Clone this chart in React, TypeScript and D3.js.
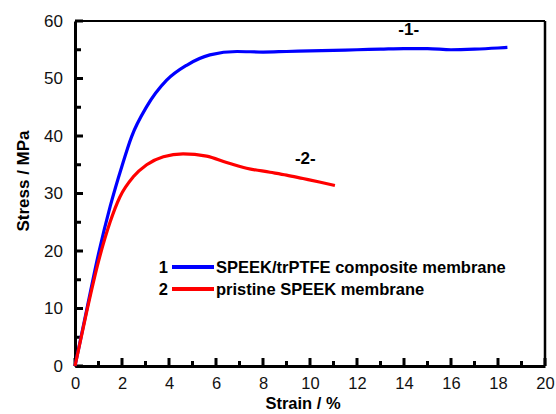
import { useEffect, useRef } from "react";
import * as d3 from "d3";

// curve 1: SPEEK/trPTFE composite membrane
const strain1 = [0, 0.5, 1.0, 1.5, 2.0, 2.41, 3.05, 3.9, 4.75, 5.74, 6.9, 8.0, 9.0, 10.0, 11.0, 12.0, 13.0, 14.0, 15.0, 16.0, 17.0, 18.0, 18.4];
const stress1 = [0, 9.8, 19.5, 27.8, 34.8, 39.9, 45.1, 49.7, 52.3, 54.1, 54.7, 54.6, 54.7, 54.8, 54.9, 55.0, 55.1, 55.2, 55.2, 55.0, 55.1, 55.3, 55.4];

// curve 2: pristine SPEEK membrane
const strain2 = [0, 0.5, 1.0, 1.49, 1.91, 2.48, 3.05, 3.76, 4.6, 5.6, 6.45, 7.3, 8.3, 9.0, 9.7, 10.4, 11.06];
const stress2 = [0, 9.5, 18.2, 25.0, 29.4, 32.9, 35.0, 36.4, 36.9, 36.5, 35.4, 34.4, 33.7, 33.2, 32.6, 32.0, 31.4];

const xTicks = [0, 2, 4, 6, 8, 10, 12, 14, 16, 18, 20];
const yTicks = [0, 10, 20, 30, 40, 50, 60];
const legendNames = ["SPEEK/trPTFE composite membrane", "pristine SPEEK membrane"];
const curveTags = ["-1-", "-2-"];

function renderChart(element: SVGSVGElement) {
  const svg = d3.select(element);
  svg.selectAll("*").remove();

  const left = 75, right = 545, top = 21, bottom = 366;
  const x = d3.scaleLinear().domain([0, 20]).range([left, right]);
  const y = d3.scaleLinear().domain([0, 60]).range([bottom, top]);
  const font = "Arial, 'Liberation Sans', sans-serif";

  // frame
  svg.append("line").attr("x1", left).attr("x2", right).attr("y1", top).attr("y2", top)
    .attr("stroke", "#000").attr("stroke-width", 2);
  svg.append("line").attr("x1", right).attr("x2", right).attr("y1", top).attr("y2", bottom)
    .attr("stroke", "#000").attr("stroke-width", 2.5);

  // axes (line + labels)
  const xAxis = svg.append("g").attr("transform", `translate(0,${bottom})`);
  xAxis.call(d3.axisBottom(x).tickValues(xTicks).tickSize(0).tickPadding(11).tickFormat(d3.format("d")));
  xAxis.select(".domain").attr("stroke", "#000").attr("stroke-width", 3);
  xAxis.selectAll("text").attr("font-size", 16.5).attr("font-family", font).attr("fill", "#111");

  const yAxis = svg.append("g").attr("transform", `translate(${left},0)`);
  yAxis.call(d3.axisLeft(y).tickValues(yTicks).tickSize(0).tickPadding(12).tickFormat(d3.format("d")));
  yAxis.select(".domain").attr("stroke", "#000").attr("stroke-width", 3);
  yAxis.selectAll("text").attr("font-size", 17).attr("font-family", font).attr("fill", "#111");

  // inward ticks, drawn from the scales
  const xMinor = d3.range(1, 20, 2);
  const yMinor = d3.range(5, 60, 10);
  svg.append("g").attr("class", "xticks").selectAll("line")
    .data([...xTicks.map((v) => [v, 8]), ...xMinor.map((v) => [v, 5])])
    .join("line")
    .attr("x1", (d) => x(d[0])).attr("x2", (d) => x(d[0]))
    .attr("y1", bottom).attr("y2", (d) => bottom - d[1])
    .attr("stroke", "#000").attr("stroke-width", 3);
  svg.append("g").attr("class", "yticks").selectAll("line")
    .data([...yTicks.map((v) => [v, 8]), ...yMinor.map((v) => [v, 6])])
    .join("line")
    .attr("y1", (d) => y(d[0])).attr("y2", (d) => y(d[0]))
    .attr("x1", left).attr("x2", (d) => left + d[1])
    .attr("stroke", "#000").attr("stroke-width", 3);

  // axis titles
  svg.append("text").attr("x", 303).attr("y", 409).attr("text-anchor", "middle")
    .attr("font-family", font).attr("font-weight", "bold").attr("font-size", 16.5).text("Strain / %");
  svg.append("text").attr("transform", `translate(29,181) rotate(-90)`)
    .attr("text-anchor", "middle").attr("font-family", font).attr("font-weight", "bold")
    .attr("font-size", 17).text("Stress / MPa");

  const line = d3.line<[number, number]>().x((d) => x(d[0])).y((d) => y(d[1])).curve(d3.curveMonotoneX);
  const series = [
    { xs: strain1, ys: stress1, color: "#0000ff" },
    { xs: strain2, ys: stress2, color: "#ff0000" },
  ];
  series.forEach((s) => {
    svg.append("path")
      .datum(s.xs.map((v, i) => [v, s.ys[i]] as [number, number]))
      .attr("d", line)
      .attr("fill", "none")
      .attr("stroke", s.color)
      .attr("stroke-width", 3.2);
  });

  // curve tags
  svg.append("text").attr("x", x(14.2)).attr("y", y(57.6)).attr("text-anchor", "middle")
    .attr("font-family", font).attr("font-weight", "bold").attr("font-size", 17).text(curveTags[0]);
  svg.append("text").attr("x", x(9.8)).attr("y", y(35.2)).attr("text-anchor", "middle")
    .attr("font-family", font).attr("font-weight", "bold").attr("font-size", 17).text(curveTags[1]);

  // legend
  legendNames.forEach((name, i) => {
    const ly = 267 + i * 22;
    const g = svg.append("g");
    g.append("text").attr("x", 168).attr("y", ly + 6).attr("text-anchor", "end")
      .attr("font-family", font).attr("font-weight", "bold").attr("font-size", 16.5).text(String(i + 1));
    g.append("line").attr("x1", 172).attr("x2", 214).attr("y1", ly).attr("y2", ly)
      .attr("stroke", series[i].color).attr("stroke-width", 4);
    g.append("text").attr("x", 216).attr("y", ly + 6)
      .attr("font-family", font).attr("font-weight", "bold").attr("font-size", 16.5).text(name);
  });
}

export default function App() {
  const ref = useRef<SVGSVGElement>(null);
  useEffect(() => {
    if (ref.current) renderChart(ref.current);
  }, []);
  return (
    <svg ref={ref} width={556} height={414}
      style={{ position: "absolute", left: 0, top: 0, background: "#fff" }} />
  );
}
